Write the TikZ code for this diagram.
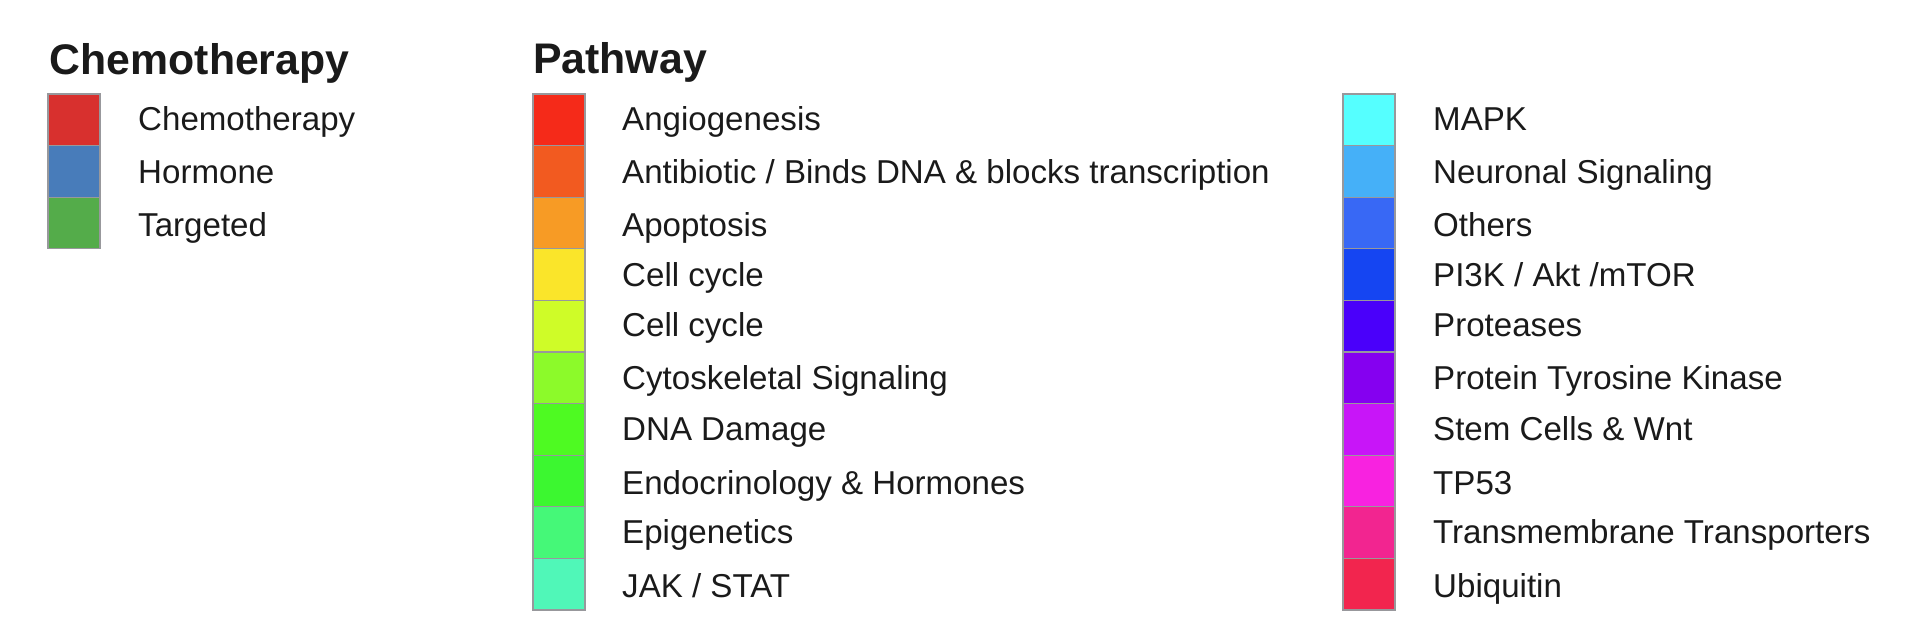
\documentclass[tikz,border=0pt]{standalone}
\usepackage{fontspec}
\setmainfont{Liberation Sans}
\usetikzlibrary{positioning}
\definecolor{txt}{RGB}{26,26,26}
\definecolor{edgegray}{RGB}{152,152,156}
\definecolor{chemo}{RGB}{216,48,46}
\definecolor{hormone}{RGB}{72,124,186}
\definecolor{targeted}{RGB}{84,172,74}
\definecolor{pa1}{RGB}{245,42,25}
\definecolor{pa2}{RGB}{242,90,32}
\definecolor{pa3}{RGB}{247,155,37}
\definecolor{pa4}{RGB}{250,229,42}
\definecolor{pa5}{RGB}{207,252,40}
\definecolor{pa6}{RGB}{140,250,42}
\definecolor{pa7}{RGB}{78,250,34}
\definecolor{pa8}{RGB}{60,247,48}
\definecolor{pa9}{RGB}{69,248,120}
\definecolor{pa10}{RGB}{80,247,184}
\definecolor{pb1}{RGB}{85,255,255}
\definecolor{pb2}{RGB}{69,176,248}
\definecolor{pb3}{RGB}{56,104,245}
\definecolor{pb4}{RGB}{21,69,242}
\definecolor{pb5}{RGB}{74,0,250}
\definecolor{pb6}{RGB}{133,0,240}
\definecolor{pb7}{RGB}{200,21,248}
\definecolor{pb8}{RGB}{248,34,224}
\definecolor{pb9}{RGB}{242,37,144}
\definecolor{pb10}{RGB}{242,37,78}
\tikzstyle{swatch}=[draw=edgegray,line width=1.2pt,rectangle,minimum width=52pt,minimum height=51.6pt,inner sep=0pt]
\tikzstyle{entry}=[anchor=base west,inner sep=0pt,text=txt,font=\fontsize{33.1}{40}\selectfont]
\tikzstyle{heading}=[anchor=base west,inner sep=0pt,text=txt,font=\fontsize{42.8}{50}\selectfont\bfseries]

\begin{document}
\begin{tikzpicture}[x=1pt,y=-1pt]
  \useasboundingbox (0,0) rectangle (1920,644);
  % chemotherapy legend
  \node[heading] (chemotitle) at (49.5,75) {Chemotherapy};
  \node[swatch,fill=chemo] (c1) at (74,119.8) {};
  \node[swatch,fill=hormone,below of=c1,node distance=51.6pt] (c2) {};
  \node[swatch,fill=targeted,below of=c2,node distance=51.6pt] (c3) {};
  \node[entry] (c1txt) at (138,131) {Chemotherapy};
  \node[entry] (c2txt) at (138,184) {Hormone};
  \node[entry] (c3txt) at (138,237) {Targeted};
  % pathway legend, first column
  \node[heading] (pathtitle) at (533,74) {Pathway};
  \node[swatch,fill=pa1] (pa1) at (559,119.8) {};
  \node[swatch,fill=pa2,below of=pa1,node distance=51.6pt] (pa2) {};
  \node[swatch,fill=pa3,below of=pa2,node distance=51.6pt] (pa3) {};
  \node[swatch,fill=pa4,below of=pa3,node distance=51.6pt] (pa4) {};
  \node[swatch,fill=pa5,below of=pa4,node distance=51.6pt] (pa5) {};
  \node[swatch,fill=pa6,below of=pa5,node distance=51.6pt] (pa6) {};
  \node[swatch,fill=pa7,below of=pa6,node distance=51.6pt] (pa7) {};
  \node[swatch,fill=pa8,below of=pa7,node distance=51.6pt] (pa8) {};
  \node[swatch,fill=pa9,below of=pa8,node distance=51.6pt] (pa9) {};
  \node[swatch,fill=pa10,below of=pa9,node distance=51.6pt] (pa10) {};
  \node[entry] (pa1txt) at (622,131) {Angiogenesis};
  \node[entry] (pa2txt) at (622,184) {Antibiotic / Binds DNA \& blocks transcription};
  \node[entry] (pa3txt) at (622,237) {Apoptosis};
  \node[entry] (pa4txt) at (622,287) {Cell cycle};
  \node[entry] (pa5txt) at (622,337) {Cell cycle};
  \node[entry] (pa6txt) at (622,389) {Cytoskeletal Signaling};
  \node[entry] (pa7txt) at (622,440) {DNA Damage};
  \node[entry] (pa8txt) at (622,494) {Endocrinology \& Hormones};
  \node[entry] (pa9txt) at (622,543) {Epigenetics};
  \node[entry] (pa10txt) at (622,597) {JAK / STAT};
  % pathway legend, second column
  \node[swatch,fill=pb1] (pb1) at (1369,119.8) {};
  \node[swatch,fill=pb2,below of=pb1,node distance=51.6pt] (pb2) {};
  \node[swatch,fill=pb3,below of=pb2,node distance=51.6pt] (pb3) {};
  \node[swatch,fill=pb4,below of=pb3,node distance=51.6pt] (pb4) {};
  \node[swatch,fill=pb5,below of=pb4,node distance=51.6pt] (pb5) {};
  \node[swatch,fill=pb6,below of=pb5,node distance=51.6pt] (pb6) {};
  \node[swatch,fill=pb7,below of=pb6,node distance=51.6pt] (pb7) {};
  \node[swatch,fill=pb8,below of=pb7,node distance=51.6pt] (pb8) {};
  \node[swatch,fill=pb9,below of=pb8,node distance=51.6pt] (pb9) {};
  \node[swatch,fill=pb10,below of=pb9,node distance=51.6pt] (pb10) {};
  \node[entry] (pb1txt) at (1433,131) {MAPK};
  \node[entry] (pb2txt) at (1433,184) {Neuronal Signaling};
  \node[entry] (pb3txt) at (1433,237) {Others};
  \node[entry] (pb4txt) at (1433,287) {PI3K / Akt /mTOR};
  \node[entry] (pb5txt) at (1433,337) {Proteases};
  \node[entry] (pb6txt) at (1433,389) {Protein Tyrosine Kinase};
  \node[entry] (pb7txt) at (1433,440) {Stem Cells \& Wnt};
  \node[entry] (pb8txt) at (1433,494) {TP53};
  \node[entry] (pb9txt) at (1433,543) {Transmembrane Transporters};
  \node[entry] (pb10txt) at (1433,597) {Ubiquitin};
\end{tikzpicture}
\end{document}
